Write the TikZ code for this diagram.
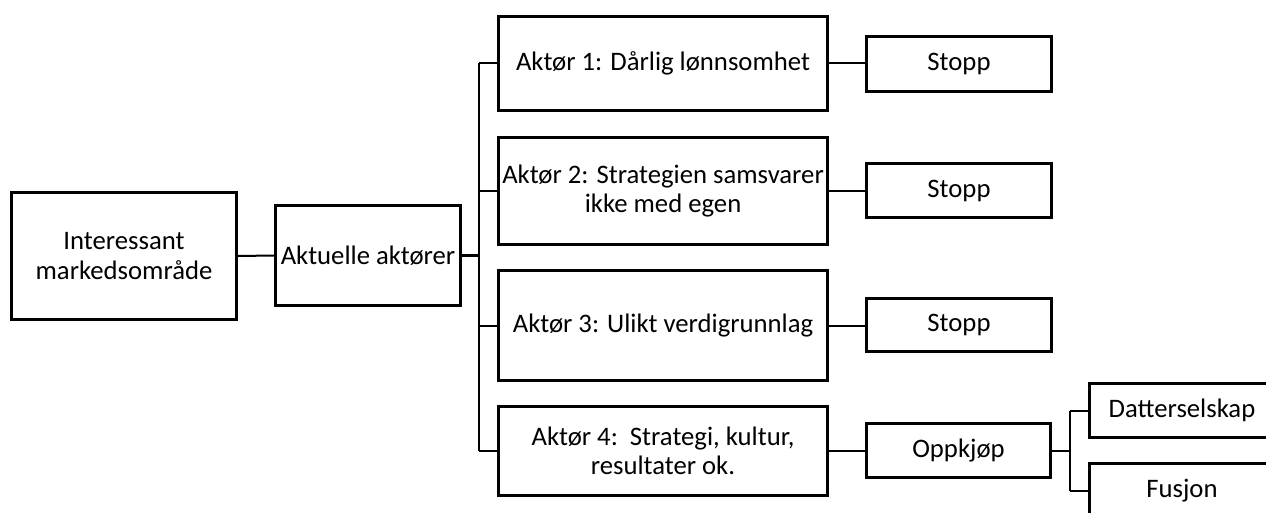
\documentclass[tikz,border=0pt]{standalone}
\usepackage{fontspec}
\setmainfont{Carlito}
\begin{document}
\begin{tikzpicture}[x=1pt,y=-1pt,
  box/.style={draw, line width=2.6pt, inner sep=0pt, align=center,
    font=\fontsize{26.7}{29.5}\selectfont},
  link/.style={line width=2pt},
  fatlink/.style={line width=3pt}]
\useasboundingbox (0,0) rectangle (1266,513);
\clip (0,0) rectangle (1266,513);

% first two levels
\node[box, minimum width=225.4pt, minimum height=127.4pt] (mkt) at (124,256) {Interessant\\markedsområde};
\node[box, minimum width=185.4pt, minimum height=100.4pt] (akt) at (368,255.5) {Aktuelle aktører};

% the four actors
\node[box, minimum width=329.4pt, minimum height=94.4pt]  (a1) at (663,63.5)  {Aktør 1: Dårlig lønnsomhet};
\node[box, minimum width=329.4pt, minimum height=107.4pt] (a2) at (663,191)   {Aktør 2: Strategien samsvarer\\ikke med egen};
\node[box, minimum width=329.4pt, minimum height=110.4pt] (a3) at (663,325.5) {Aktør 3: Ulikt verdigrunnlag};
\node[box, minimum width=329.4pt, minimum height=89.4pt]  (a4) at (663,451)   {Aktør 4:\ \ Strategi, kultur,\\resultater ok.};

% outcomes
\node[box, minimum width=185.4pt, minimum height=55.4pt] (s1) at (959,64)    {Stopp};
\node[box, minimum width=185.4pt, minimum height=54.4pt] (s2) at (959,190.5) {Stopp};
\node[box, minimum width=185.4pt, minimum height=53.4pt] (s3) at (959,325)   {Stopp};
\node[box, minimum width=184.4pt, minimum height=54.4pt] (opp) at (958.5,450.5) {Oppkjøp};
\node[box, minimum width=185.4pt, minimum height=54.4pt] (dat) at (1182,410.5) {Datterselskap};
\node[box, minimum width=185.4pt, minimum height=54.4pt] (fus) at (1182,490.5) {Fusjon};

% bus joints
\coordinate (busT) at (479,63.5);
\coordinate (busB) at (479,451);
\coordinate (sub) at (1070,450.5);
\coordinate (subT) at (1070,410.5);
\coordinate (subB) at (1070,490.5);

% connectors
\draw[link] (mkt.east) -- (akt.west);
\draw[fatlink] (akt.east) -- (akt.east -| busT);
\draw[link] (busT) -- (busB);
\draw[link] (busT) -- (a1.west);
\draw[link] (a2.west -| busT) -- (a2.west);
\draw[link] (a3.west -| busT) -- (a3.west);
\draw[link] (busB) -- (a4.west);
\draw[link] (a1.east) -- (a1.east -| s1.west);
\draw[link] (a2.east) -- (a2.east -| s2.west);
\draw[link] (a3.east) -- (a3.east -| s3.west);
\draw[link] (a4.east) -- (a4.east -| opp.west);
\draw[link] (opp.east) -- (sub);
\draw[link] (subT) -- (subB);
\draw[link] (subT) -- (dat.west);
\draw[link] (subB) -- (fus.west);
\end{tikzpicture}
\end{document}
